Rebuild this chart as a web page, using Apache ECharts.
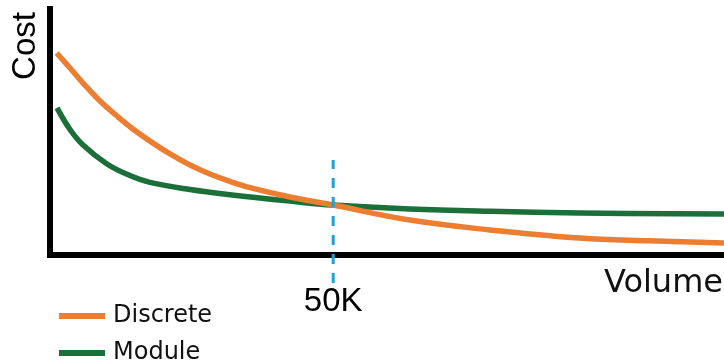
<!DOCTYPE html>
<html><head><meta charset="utf-8">
<script src="https://cdn.jsdelivr.net/npm/echarts@6/dist/echarts.min.js"></script>
<style>html,body{margin:0;padding:0;background:#fff}#c{width:724px;height:361px}</style>
</head><body><div id="c"></div>
<script>
// x in thousands of units (volume), y arbitrary cost
const discrete = [[1.18,82.1],[3.53,76.0],[5.83,69.9],[8.83,62.6],[11.83,56.5],[14.65,51.2],[17.66,46.3],[21.19,41.1],[24.72,36.6],[28.25,32.9],[31.78,29.9],[35.31,27.4],[42.37,23.6],[50,20.3],[63.56,14.2],[77.69,10.2],[93.58,6.9],[105.9,5.77],[119,4.88]];
const moduleS = [[1.24,59.8],[3.53,51.0],[5.83,44.7],[10.06,37.0],[14.12,32.3],[17.66,29.5],[24.72,26.6],[31.78,24.5],[42.37,21.9],[50,20.3],[63.56,18.7],[77.69,17.76],[93.58,17.07],[119,16.67]];
const markerX = 50;
const markerSpan = [-11.4, 38.6];
const seriesNames = ['Discrete','Module'];
const xTickLabel = '50K';
const xName = 'Volume';
const yName = 'Cost';

const chart = echarts.init(document.getElementById('c'));
const font = 'DejaVu Sans';
const legendCommon = {orient:'vertical',left:54,itemWidth:46,itemHeight:6,icon:'rect',
    textStyle:{fontFamily:font,fontSize:24,color:'#111',padding:[0,0,0,3]}};
chart.setOption({
  animation:false,
  grid:{left:50,right:0,top:9,bottom:106,containLabel:false},
  xAxis:{type:'value',min:0,max:119,interval:50,
    axisLine:{show:true,lineStyle:{color:'#000',width:6,cap:'square'}},
    axisTick:{show:false},splitLine:{show:false},
    axisLabel:{showMaxLabel:false,margin:30,color:'#000',fontSize:33,fontFamily:'Liberation Sans',
      formatter:v=>v===markerX?xTickLabel:''}},
  yAxis:{type:'value',min:0,max:100,
    axisLine:{show:true,lineStyle:{color:'#000',width:6,cap:'square'}},
    axisTick:{show:false},splitLine:{show:false},axisLabel:{show:false}},
  legend:[
    Object.assign({top:299,data:[seriesNames[0]]},legendCommon),
    Object.assign({top:336,data:[seriesNames[1]]},legendCommon)
  ],
  graphic:[
    {type:'text',right:1,top:268,style:{text:xName,font:'32px "DejaVu Sans"',fill:'#111'}},
    {type:'text',x:26,y:46,rotation:Math.PI/2,style:{text:yName,font:'33px "Liberation Sans"',fill:'#000',align:'center',verticalAlign:'middle'}}
  ],
  series:[
    {name:seriesNames[1],type:'line',data:moduleS,smooth:0.4,showSymbol:false,
      lineStyle:{color:'#1b6f38',width:5.5,join:'round'},itemStyle:{color:'#1b6f38'}},
    {name:seriesNames[0],type:'line',data:discrete,smooth:0.4,showSymbol:false,
      lineStyle:{color:'#ed7d31',width:5.5,join:'round'},itemStyle:{color:'#ed7d31'}},
    {type:'line',data:[[markerX,markerSpan[0]],[markerX,markerSpan[1]]],clip:false,showSymbol:false,silent:true,
      lineStyle:{color:'#1da1de',width:3,type:[10,9]},z:5}
  ]
});
</script></body></html>
